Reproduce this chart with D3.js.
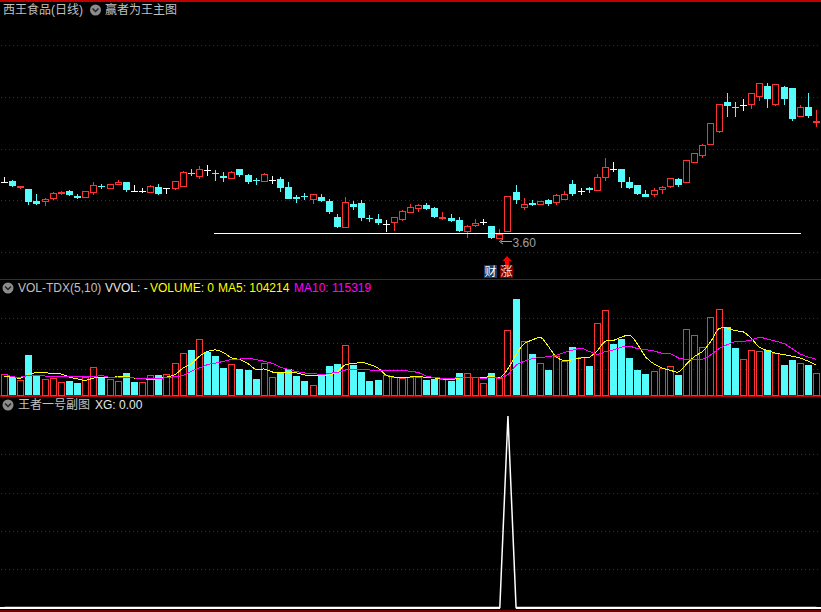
<!DOCTYPE html>
<html><head><meta charset="utf-8">
<script src="https://cdn.jsdelivr.net/npm/d3@7"></script>
<style>html,body{margin:0;padding:0;background:#000;overflow:hidden}svg{display:block}text{font-family:"Liberation Sans","Noto Sans CJK SC",sans-serif}</style>
</head><body><svg id="c" width="821" height="612"></svg>
<script>
// prices in units of 1/300 yuan
const open=[1255,1256,1237,1233,1197,1195,1204,1219,1227,1212,1207,1222,1242,1234,1246,1253,1226,1226,1222,1239,1237,1234,1240,1280,1270,1290,1281,1272,1264,1293,1275,1260,1255,1261,1263,1239,1209,1211,1200,1209,1197,1149,1117,1188,1191,1145,1143,1128,1132,1141,1162,1174,1185,1176,1145,1146,1140,1105,1122,1134,1122,1084,1103,1224,1176,1191,1186,1199,1192,1201,1248,1226,1236,1228,1267,1292,1293,1254,1245,1218,1216,1229,1240,1263,1252,1312,1333,1366,1405,1494,1479,1485,1486,1510,1542,1486,1539,1536,1450,1479,1431];
const close=[1255,1243,1241,1194,1188,1202,1220,1223,1215,1205,1226,1244,1240,1247,1253,1230,1226,1226,1242,1218,1237,1256,1283,1278,1292,1290,1279,1267,1283,1275,1254,1258,1277,1261,1236,1203,1203,1208,1217,1197,1164,1119,1194,1179,1146,1143,1131,1128,1148,1166,1179,1184,1173,1149,1149,1137,1107,1121,1130,1134,1086,1097,1211,1200,1187,1186,1197,1188,1214,1217,1218,1226,1230,1268,1298,1292,1254,1236,1218,1209,1229,1238,1265,1245,1319,1340,1364,1430,1487,1482,1476,1485,1520,1550,1503,1547,1503,1443,1478,1452,1437];
const high=[1268,1260,1241,1233,1218,1207,1223,1227,1230,1218,1227,1254,1249,1248,1260,1253,1245,1236,1245,1248,1237,1257,1286,1293,1302,1305,1290,1284,1286,1293,1278,1266,1281,1272,1269,1254,1215,1221,1217,1218,1203,1158,1209,1197,1200,1155,1158,1140,1148,1169,1188,1188,1191,1179,1164,1158,1149,1125,1143,1143,1122,1113,1211,1245,1206,1200,1197,1202,1218,1227,1260,1236,1239,1278,1326,1314,1293,1269,1245,1230,1236,1242,1266,1266,1319,1340,1368,1430,1487,1521,1494,1503,1520,1550,1551,1547,1542,1536,1485,1521,1470];
const low=[1254,1239,1233,1185,1185,1183,1201,1215,1212,1203,1207,1216,1233,1234,1245,1224,1224,1221,1221,1215,1218,1230,1240,1272,1263,1272,1257,1254,1263,1269,1248,1245,1254,1248,1224,1203,1191,1200,1188,1194,1158,1116,1117,1170,1137,1134,1125,1104,1107,1137,1161,1164,1170,1146,1140,1134,1104,1086,1119,1125,1083,1083,1103,1188,1170,1182,1185,1182,1185,1200,1212,1215,1221,1228,1257,1284,1236,1233,1215,1209,1209,1218,1236,1239,1252,1311,1326,1366,1401,1449,1449,1467,1473,1497,1476,1482,1485,1437,1449,1446,1419];
const priceGrid=[1665,1509,1354.5,1200,1044];
const supportLevel=1102.5;
// volume in units of about 1150 shares
const volume=[63,54,45,120,60,48,51,39,42,36,54,84,54,48,42,66,39,38,59,60,63,95,125,135,167,129,117,81,93,78,75,48,95,54,66,78,57,42,29,62,87,93,149,90,69,42,45,60,55,50,54,54,45,49,47,42,66,65,53,35,66,50,194,288,162,123,95,75,116,101,144,113,87,215,254,153,168,111,75,63,71,81,86,60,197,179,143,233,257,203,141,107,134,131,135,125,90,105,95,90,65];
const ma5=[56,53,51,63,67,67,64,63,54,48,44,51,53,51,56,56,51,49,47,49,54,61,81,93,116,131,135,127,111,106,94,76,78,69,67,66,66,60,59,59,60,69,91,94,98,91,81,59,54,51,54,56,52,51,48,46,51,53,53,52,56,52,79,121,154,165,173,145,113,103,106,111,113,133,161,164,174,179,151,113,93,81,74,69,93,116,131,161,199,201,193,189,169,143,133,125,121,116,111,101,89];
const ma10=[63,55,54,59,59,57,56,55,55,55,54,55,58,53,54,52,51,50,49,50,52,55,59,71,81,91,96,101,107,108,110,106,101,95,83,77,70,66,65,61,65,68,75,76,77,75,74,74,74,74,71,67,56,53,50,50,52,53,53,50,53,51,61,89,101,109,113,115,120,128,135,140,131,122,130,135,144,146,139,136,132,125,124,111,107,106,108,121,139,151,160,161,165,173,167,161,154,139,123,114,107];
const volGrid=[230,155,77];
const flatCyanBars=[16,25,75];
const xg=volume.map(()=>0); xg[62]=1;
const xgGrid=[0.2,0.4,0.6,0.8];
const titles={price:["西王食品(日线)","赢者为王主图"],vol:["VOL-TDX(5,10)","VVOL: -","VOLUME: 0","MA5: 104214","MA10: 115319"],xg:["王者一号副图","XG: 0.00"]};

const W=821,RED="#ff3232",CY="#54fcfc",GRID="#a00000",GRAY="#c0c0c0";
const svg=d3.select("#c");
svg.append("rect").attr("width",W).attr("height",612).attr("fill","#000");
const x=d3.scaleLinear().domain([0,100]).range([4,816]);
const px=i=>Math.round(x(i));
const xc=i=>x(i)+.5;
const yP=d3.scaleLinear().domain([1080,1665]).range([240,45]);
const yV=d3.scaleLinear().domain([0,288]).range([395,299]);
const yX=d3.scaleLinear().domain([0,1]).range([607.5,416]);
const crisp=s=>s.attr("shape-rendering","crispEdges");

function hline(y,col,w){crisp(svg.append("line")).attr("x1",0).attr("x2",W).attr("y1",y).attr("y2",y).attr("stroke",col).attr("stroke-width",w);}
hline(0.5,"#c00000",2);hline(279.5,"#a00000",1);hline(396,"#c00000",2);hline(611,"#700000",2);
function grid(ys){ys.forEach(y=>{const r=Math.round(y)+.5;crisp(svg.append("line")).attr("x1",1).attr("x2",W).attr("y1",r).attr("y2",r).attr("stroke",GRID).attr("stroke-width",1).attr("stroke-dasharray","1 3");});}
grid(priceGrid.map(yP));grid(volGrid.map(yV));grid(xgGrid.map(yX));

// candles
const idx=d3.range(open.length);
const colr=i=>close[i]===open[i]?"#fff":close[i]>open[i]?RED:CY;
const g=crisp(svg.append("g"));
idx.forEach(i=>{
  const c=px(i)+.5,top=Math.round(yP(Math.max(open[i],close[i]))),bot=Math.round(yP(Math.min(open[i],close[i])));
  const col=colr(i);
  g.append("line").attr("x1",c).attr("x2",c).attr("y1",Math.round(yP(high[i]))).attr("y2",top).attr("stroke",col);
  g.append("line").attr("x1",c).attr("x2",c).attr("y1",bot).attr("y2",Math.round(yP(low[i]))).attr("stroke",col);
  if(close[i]===open[i]){
    g.append("line").attr("x1",c-3.5).attr("x2",c+3.5).attr("y1",top+.5).attr("y2",top+.5).attr("stroke",col);
    g.append("line").attr("x1",c).attr("x2",c).attr("y1",Math.round(yP(high[i]))).attr("y2",Math.round(yP(low[i]))).attr("stroke",col);
  } else if(close[i]>open[i]){
    g.append("rect").attr("x",c-3).attr("y",top+.5).attr("width",6).attr("height",Math.max(bot-top-1,1)).attr("fill","#000").attr("stroke",col);
  } else {
    g.append("rect").attr("x",c-3.5).attr("y",top).attr("width",7).attr("height",Math.max(bot-top,1)).attr("fill",col);
  }
});
// support line
const sy=Math.round(yP(supportLevel))+.5;
crisp(svg.append("line")).attr("x1",214).attr("x2",801).attr("y1",sy).attr("y2",sy).attr("stroke","#fff").attr("stroke-width",1);
// low marker
svg.append("path").attr("d","M512 241.5H501M503 239L499.5 241.5L503 244").attr("fill","none").attr("stroke","#a0a0a0").attr("stroke-width",1);
svg.append("text").attr("x",512.5).attr("y",246.5).attr("font-size",12).attr("fill","#a0a0a0").text("3.60");
// badges
svg.append("path").attr("d","M507 256L511.5 261H509V265H505V261H502.5Z").attr("fill","#ff0000");
svg.append("rect").attr("x",484).attr("y",265).attr("width",13).attr("height",13).attr("fill","#0f3f70");
svg.append("rect").attr("x",500).attr("y",265).attr("width",13).attr("height",13).attr("fill","#7c0000");
svg.append("text").attr("x",490.5).attr("y",276).attr("text-anchor","middle").attr("font-size",12).attr("fill","#fff").text("财");
svg.append("text").attr("x",506.5).attr("y",276).attr("text-anchor","middle").attr("font-size",12).attr("fill","#ffdddd").text("涨");

// volume bars
const gv=crisp(svg.append("g"));
const barCyan=i=>close[i]===open[i]?flatCyanBars.includes(i):close[i]<open[i];
idx.forEach(i=>{
  const c=px(i)+.5,t=Math.round(yV(volume[i]));
  if(barCyan(i)) gv.append("rect").attr("x",c-3.5).attr("y",t).attr("width",7).attr("height",395-t).attr("fill",CY);
  else gv.append("rect").attr("x",c-3).attr("y",t+.5).attr("width",6).attr("height",395-t-.5).attr("fill","none").attr("stroke",RED);
});
const lineV=d3.line().x((d,i)=>xc(i)).y(d=>yV(d)).curve(d3.curveCatmullRom);
crisp(svg.append("path")).attr("d",lineV(ma5)).attr("fill","none").attr("stroke","#ffff00").attr("stroke-width",1);
crisp(svg.append("path")).attr("d",lineV(ma10)).attr("fill","none").attr("stroke","#ff00ff").attr("stroke-width",1);

// XG
const lineX=d3.line().x((d,i)=>xc(i)).y(d=>yX(d));
svg.append("path").attr("d",lineX(xg)).attr("fill","none").attr("stroke","#fff").attr("stroke-width",1.5);
const peak=xg.indexOf(1);
[[0,xc(peak-1)],[xc(peak+1),W]].forEach(([a,b])=>crisp(svg.append("line")).attr("x1",a).attr("x2",b).attr("y1",yX(0)).attr("y2",yX(0)).attr("stroke","#fff").attr("stroke-width",2));

// titles
function icon(cx,cy){
  svg.append("circle").attr("cx",cx).attr("cy",cy).attr("r",5.5).attr("fill","#8c8c8c");
  svg.append("path").attr("d",`M${cx-3} ${cy-1.5}L${cx} ${cy+1.5}L${cx+3} ${cy-1.5}`).attr("fill","none").attr("stroke","#222").attr("stroke-width",1.5);
}
function t(x0,y0,s,col){svg.append("text").attr("x",x0).attr("y",y0).attr("font-size",12).attr("fill",col).text(s);}
t(3,14,titles.price[0],GRAY);icon(95.5,10);t(105,14,titles.price[1],GRAY);
icon(8,288);t(18,292,titles.vol[0],GRAY);t(105,292,titles.vol[1],"#e8e8e8");t(150,292,titles.vol[2],"#ffff00");t(218,292,titles.vol[3],"#ffff00");t(294,292,titles.vol[4],"#ff00ff");
icon(8,405);t(18,409,titles.xg[0],GRAY);t(95,409,titles.xg[1],"#e8e8e8");
</script></body></html>
